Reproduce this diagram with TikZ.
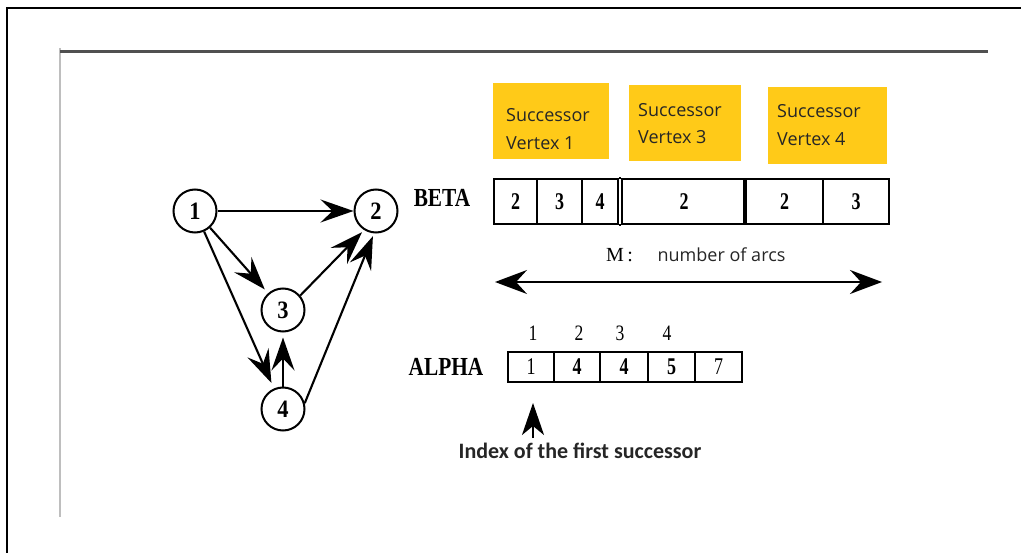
\documentclass[tikz,border=0pt]{standalone}
\usepackage{fontspec}
\setmainfont{Liberation Serif}
\newfontfamily\uisans{Open Sans}
\newfontfamily\calib{Carlito}
\usetikzlibrary{arrows.meta}
\definecolor{tagyellow}{RGB}{255,202,24}
\definecolor{rulegray}{RGB}{80,80,80}
\definecolor{edgegray}{RGB}{190,190,190}
% horizontally condensed serif lettering
\newcommand{\tall}[2][0.82]{\scalebox{#1}[1]{#2}}

\begin{document}
\begin{tikzpicture}[x=1pt,y=-1pt,
  vertex/.style={circle, draw, line width=2pt, minimum size=43pt, inner sep=0pt,
    font=\fontsize{25}{25}\selectfont\bfseries},
  arc/.style={line width=2.1pt, -{Stealth[length=33pt,width=23pt,inset=12pt]}},
  cell/.style={draw, line width=1.8pt, inner sep=0pt, fill=white,
    font=\fontsize{24}{24}\selectfont\bfseries},
  thincell/.style={cell, font=\fontsize{24}{24}\selectfont},
  tag/.style={fill=tagyellow, inner sep=0pt},
  tagtext/.style={anchor=base west, inner sep=0pt, text=black!85,
    font=\uisans\fontsize{18}{18}\selectfont},
  lab/.style={inner sep=0pt, font=\fontsize{26}{26}\selectfont\bfseries},
  idxnum/.style={inner sep=0pt, font=\fontsize{22}{22}\selectfont},
]
\useasboundingbox (0,0) rectangle (1025,553);

% frame and rules
\draw[line width=2.5pt] (7,553) -- (7,8) -- (1021,8);
\draw[edgegray, line width=1.2pt] (60,48) -- (60,517);
\draw[rulegray, line width=3pt] (60,52) -- (988,52);

% graph
\node[vertex] (n1) at (195,211) {\tall[0.9]{1}};
\node[vertex] (n2) at (376,211) {\tall[0.9]{2}};
\node[vertex] (n3) at (283,310) {\tall[0.9]{3}};
\node[vertex] (n4) at (283,409) {\tall[0.9]{4}};

\draw[arc] (n1) -- (n2);
\draw[arc, shorten >=5pt] (n1.-48) -- (n3);
\draw[arc, shorten >=6pt] (n1) -- (n4);
\draw[arc, shorten >=5pt] (n4) -- (n3);
\draw[arc, shorten >=3pt] (n3.40) -- (n2.238);
\draw[arc, shorten >=3pt] (n4.15) -- (n2.265);

% successor tags
\node[tag, minimum width=116pt, minimum height=76pt] (t1) at (551,121) {};
\node[tag, minimum width=112pt, minimum height=76pt] (t2) at (685,123) {};
\node[tag, minimum width=119pt, minimum height=77pt] (t3) at (827.5,125.5) {};
\node[tagtext] (t1a) at (506,122) {Successor};
\node[tagtext] (t1b) at (506,150) {Vertex 1};
\node[tagtext] (t2a) at (638,117) {Successor};
\node[tagtext] (t2b) at (638,144) {Vertex 3};
\node[tagtext] (t3a) at (777,118) {Successor};
\node[tagtext] (t3b) at (777,146) {Vertex 4};

% BETA array
\node[lab] (beta) at (442,198) {\tall{BETA}};
\node[cell, minimum width=43pt, minimum height=45pt] (b1) at (515.5,201.5) {\tall[0.75]{2}};
\node[cell, minimum width=45pt, minimum height=45pt] (b2) at (559.5,201.5) {\tall[0.75]{3}};
\node[cell, minimum width=36pt, minimum height=45pt] (b3) at (600,201.5) {\tall[0.75]{4}};
\node[cell, minimum width=124pt, minimum height=45pt] (b4) at (684,201.5) {\tall[0.75]{2}};
\node[cell, minimum width=77pt, minimum height=45pt] (b5) at (784.5,201.5) {\tall[0.75]{2}};
\node[cell, minimum width=66pt, minimum height=45pt] (b6) at (856,201.5) {\tall[0.75]{3}};
\draw[line width=1.8pt] (b3.north east) -- (b4.north west);
\draw[line width=1.8pt] (b3.south east) -- (b4.south west);
\draw[line width=3.5pt] (b5.north west) -- (b5.south west);

% number of arcs
\node[inner sep=0pt, anchor=base, font=\fontsize{20}{20}\selectfont] (m) at (619.5,262) {M\,:};
\node[inner sep=0pt, anchor=base, text=black!85, font=\uisans\fontsize{18}{18}\selectfont] (arcs) at (721.5,262) {number of arcs};
\coordinate (ml) at (495,282);
\coordinate (mr) at (882,282);
\draw[line width=2pt, {Stealth[length=32pt,width=24pt,inset=11pt]}-{Stealth[length=32pt,width=24pt,inset=11pt]}] (ml) -- (mr);

% ALPHA array
\node[idxnum] (i1) at (533,333) {\tall[0.8]{1}};
\node[idxnum] (i2) at (579,333) {\tall[0.8]{2}};
\node[idxnum] (i3) at (620,333) {\tall[0.8]{3}};
\node[idxnum] (i4) at (667,333) {\tall[0.8]{4}};
\node[lab] (alpha) at (446,366.5) {\tall{ALPHA}};
\node[thincell, minimum width=46pt, minimum height=30pt] (a1) at (531,367) {\tall[0.75]{1}};
\node[cell, minimum width=46pt, minimum height=30pt] (a2) at (577,367) {\tall[0.75]{4}};
\node[cell, minimum width=48pt, minimum height=30pt] (a3) at (624,367) {\tall[0.75]{4}};
\node[cell, minimum width=47pt, minimum height=30pt] (a4) at (671.5,367) {\tall[0.75]{5}};
\node[thincell, minimum width=47pt, minimum height=30pt] (a5) at (718.5,367) {\tall[0.75]{7}};

% pointer to the first successor index
\coordinate (ptail) at (533,438);
\coordinate (phead) at (533,403);
\draw[line width=2pt, -{Stealth[length=32pt,width=22pt,inset=9pt]}] (ptail) -- (phead);
\node[inner sep=0pt, anchor=base, text=black!85, font=\calib\bfseries\fontsize{22}{22}\selectfont] (idx) at (580,458) {Index of the first successor};
\end{tikzpicture}
\end{document}
